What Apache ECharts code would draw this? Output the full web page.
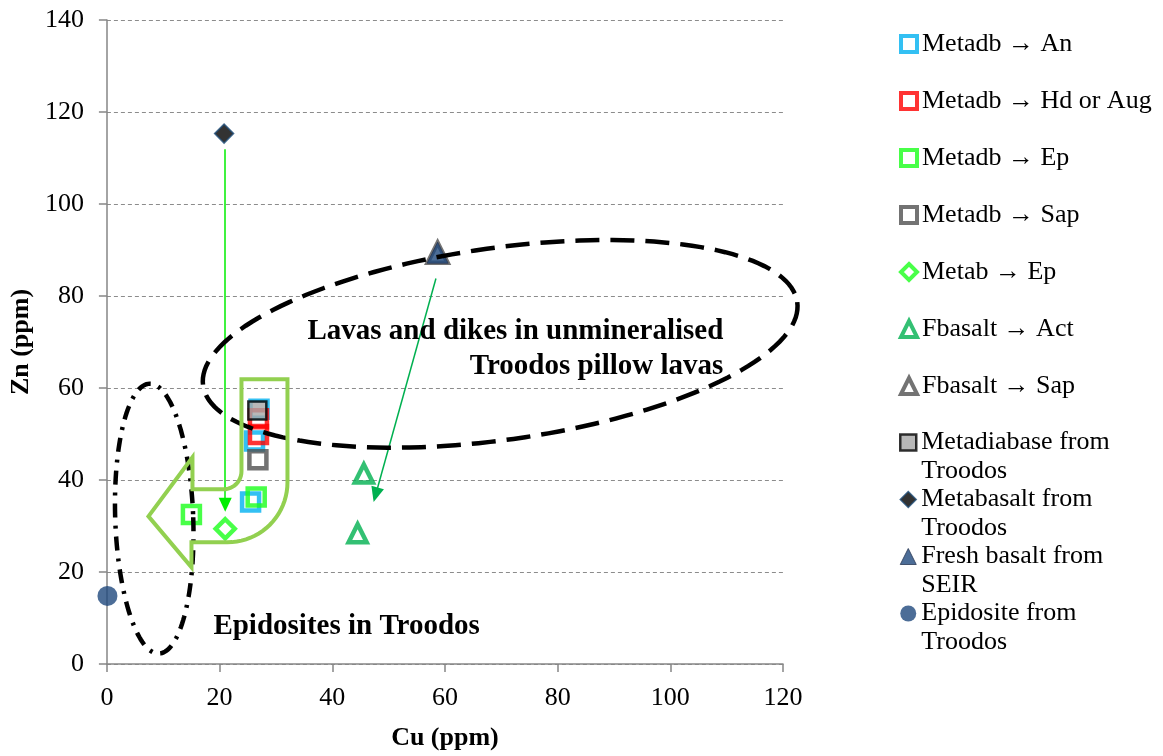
<!DOCTYPE html>
<html><head><meta charset="utf-8">
<script src="https://cdn.jsdelivr.net/npm/echarts@6/dist/echarts.min.js"></script>
<style>html,body{margin:0;padding:0;background:#fff}#c{width:1163px;height:756px}</style>
</head><body><div id="c"></div>
<script>
// ---- data (Cu ppm, Zn ppm) ----
const metadbAn = [[27.0, 55.4], [26.2, 48.5], [25.5, 35.2]];
const metadbHdAug = [[26.9, 53.3], [26.9, 49.9]];
const metadbEp = [[26.5, 36.3], [15.0, 32.5]];
const metadbSap = [[26.8, 44.4]];
const metabEp = [[21.0, 29.4]];
const fbasaltAct = [[45.6, 41.4], [44.5, 28.4]];
const fbasaltSap = [[58.7, 89.4]];
const metadiabaseTroodos = [[26.7, 55.1]];
const metabasaltTroodos = [[20.8, 115.3]];
const freshBasaltSEIR = [[58.7, 89.4]];
const epidositeTroodos = [[0.1, 14.8]];

// arrows (data coordinates: start -> end)
const arrowMetab = [[21.0, 111.9], [21.0, 34.6]];
const arrowFbasalt = [[58.4, 83.8], [47.7, 36.8]];

const seriesNames = ['Metadb \u2192 An', 'Metadb \u2192 Hd or Aug', 'Metadb \u2192 Ep', 'Metadb \u2192 Sap',
  'Metab \u2192 Ep', 'Fbasalt \u2192 Act', 'Fbasalt \u2192 Sap',
  'Metadiabase from\nTroodos', 'Metabasalt from\nTroodos', 'Fresh basalt from\nSEIR', 'Epidosite from\nTroodos'];
const annoLavas = 'Lavas and dikes in unmineralised\nTroodos pillow lavas';
const annoEpid = 'Epidosites in Troodos';

const FONT = '"Liberation Serif", "Times New Roman", serif';
const hollow = (color) => ({ color: 'rgba(255,255,255,0)', borderColor: color, borderWidth: 4.5 });

function sc(name, data, symbol, size, itemStyle, extra) {
  return Object.assign({ type: 'scatter', name, data, symbol, symbolSize: size, itemStyle }, extra || {});
}

const series = [
  sc(seriesNames[0], metadbAn, 'rect', 17, hollow('#00b0f0')),
  sc(seriesNames[1], metadbHdAug, 'rect', 17, hollow('#ff0000')),
  sc(seriesNames[2], metadbEp, 'rect', 17, hollow('#1aff1a')),
  sc(seriesNames[3], metadbSap, 'rect', 17, hollow('#505050')),
  sc(seriesNames[4], metabEp, 'diamond', 19, hollow('#1aff1a'), {
    markLine: { silent: true, animation: false, symbol: ['none', 'triangle'], symbolSize: [13, 14],
      lineStyle: { color: '#00ee00', width: 1.5, type: 'solid' }, label: { show: false },
      data: [[{ coord: arrowMetab[0] }, { coord: arrowMetab[1] }]] }
  }),
  sc(seriesNames[5], fbasaltAct, 'triangle', 18, hollow('#00b050'), {
    markLine: { silent: true, animation: false, symbol: ['none', 'triangle'], symbolSize: [13, 15],
      lineStyle: { color: '#00b050', width: 1.5, type: 'solid' }, label: { show: false },
      data: [[{ coord: arrowFbasalt[0] }, { coord: arrowFbasalt[1] }]] }
  }),
  sc(seriesNames[6], fbasaltSap, 'triangle', 20, hollow('#505050')),
  sc(seriesNames[7], metadiabaseTroodos, 'rect', 18, { color: '#a6a6a6', borderColor: '#000', borderWidth: 2.5 }),
  sc(seriesNames[8], metabasaltTroodos, 'diamond', 19, { color: '#000', borderColor: '#1f4e79', borderWidth: 1.5 }),
  sc(seriesNames[9], freshBasaltSEIR, 'triangle', 21, { color: '#1f497d', borderColor: '#2a3a55', borderWidth: 1 }),
  sc(seriesNames[10], epidositeTroodos, 'circle', 20, { color: '#1f497d' })
];

const legendIcon = (i) => {
  const s = series[i];
  return { name: s.name, icon: s.symbol, itemStyle: Object.assign({}, s.itemStyle, { borderWidth: Math.min(s.itemStyle.borderWidth, 4) }) };
};

const axisLineStyle = { color: '#868686', width: 1.5 };
const option = {
  animation: false,
  backgroundColor: '#fff',
  grid: { left: 105, top: 20, width: 678, height: 648, containLabel: false },
  xAxis: {
    type: 'value', min: 0, max: 120, interval: 20,
    axisLine: { show: true, lineStyle: axisLineStyle },
    axisTick: { show: true, length: 8, lineStyle: axisLineStyle },
    splitLine: { show: false },
    axisLabel: { fontFamily: FONT, fontSize: 26, color: '#000', margin: 21 },
    name: 'Cu (ppm)', nameLocation: 'middle', nameGap: 61,
    nameTextStyle: { fontFamily: FONT, fontSize: 26, fontWeight: 'bold', color: '#000' }
  },
  yAxis: {
    type: 'value', min: 0, max: 140, interval: 20,
    axisLine: { show: true, lineStyle: axisLineStyle },
    axisTick: { show: true, length: 8, lineStyle: axisLineStyle },
    splitLine: { show: true, lineStyle: { color: '#8c8c8c', width: 1.2, type: [4, 3] } },
    axisLabel: { fontFamily: FONT, fontSize: 26, color: '#000', margin: 23 },
    name: 'Zn (ppm)', nameLocation: 'middle', nameGap: 69,
    nameTextStyle: { fontFamily: FONT, fontSize: 26, fontWeight: 'bold', color: '#000' }
  },
  legend: [
    {
      orient: 'vertical', left: 899, top: 29, padding: 0, itemGap: 27, itemWidth: 16, itemHeight: 16,
      selectedMode: false,
      textStyle: { fontFamily: FONT, fontSize: 26, color: '#000', lineHeight: 30 },
      data: [0, 1, 2, 3, 4, 5, 6].map(legendIcon)
    },
    {
      orient: 'vertical', left: 899, top: 399, padding: 0, itemGap: -30, itemWidth: 16, itemHeight: 16,
      selectedMode: false, formatter: '\n{name}',
      textStyle: { fontFamily: FONT, fontSize: 26, color: '#000', lineHeight: 29 },
      data: [7, 8, 9, 10].map(legendIcon)
    }
  ],
  series
};

const chart = echarts.init(document.getElementById('c'), null, { renderer: 'canvas' });
chart.setOption(option);

const P = (p) => chart.convertToPixel({ gridIndex: 0 }, p);

function ellipsePts(centerData, a, b, angleRad) {
  const c = P(centerData), pts = [];
  const ca = Math.cos(angleRad), sa = Math.sin(angleRad);
  for (let i = 0; i <= 160; i++) {
    const t = (i / 160) * Math.PI * 2;
    const x = a * Math.cos(t), y = b * Math.sin(t);
    pts.push([c[0] + x * ca - y * sa, c[1] + x * sa + y * ca]);
  }
  return pts;
}

// Big dashed ellipse (lavas)
const lavaEll = ellipsePts([69.8, 69.6], 300, 96, -8.0 * Math.PI / 180);
// Dash-dot ellipse (epidosites), long axis vertical
const epiEll = ellipsePts([8.4, 31.6], 39, 135, -0.035);

// U-turn arrow (anchored at a data point, offsets in px)
const A = P([21.4, 39.5]);
const uPts = [];
const add = (dx, dy) => uPts.push([A[0] + dx, A[1] + dy]);
add(14, -103); add(60, -103);
for (let i = 0; i <= 20; i++) { const t = (i / 20) * Math.PI / 2; add(60 * Math.cos(t), 60 * Math.sin(t)); }
add(-36, 60); add(-36, 85); add(-79, 34); add(-35, -25); add(-35, 7);
for (let i = 0; i <= 12; i++) { const t = Math.PI / 2 - (i / 12) * Math.PI / 2; add(-4 + 18 * Math.cos(t), -11 + 18 * Math.sin(t)); }

const tL = P([109.4, 68.4]);
const tE = P([18.9, 8.2]);

chart.setOption({
  graphic: [
    { type: 'polyline', z: 100, shape: { points: lavaEll }, style: { fill: null, stroke: '#000', lineWidth: 4.5, lineDash: [24, 11] } },
    { type: 'polyline', z: 100, shape: { points: epiEll }, style: { fill: null, stroke: '#000', lineWidth: 4.5, lineDash: [14, 8, 3, 8] } },
    { type: 'polygon', z: 100, shape: { points: uPts }, style: { fill: null, stroke: '#92d050', lineWidth: 4, lineJoin: 'miter' } },
    { type: 'text', z: 101, x: tL[0], y: tL[1], style: { text: annoLavas, font: 'bold 29px ' + FONT, fill: '#000', align: 'right', verticalAlign: 'middle', lineHeight: 35 } },
    { type: 'text', z: 101, x: tE[0], y: tE[1], style: { text: annoEpid, font: 'bold 29px ' + FONT, fill: '#000', align: 'left', verticalAlign: 'middle' } }
  ]
});
</script>
</body></html>
